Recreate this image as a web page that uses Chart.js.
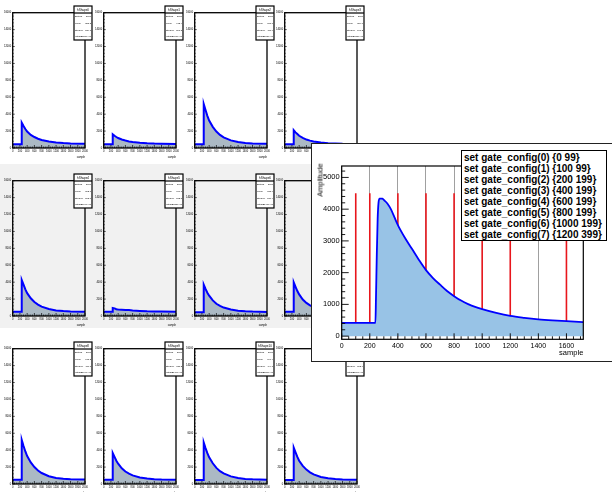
<!DOCTYPE html>
<html>
<head>
<meta charset="utf-8">
<script src="https://cdn.jsdelivr.net/npm/chart.js@4.4.0/dist/chart.umd.min.js"></script>
<style>
  html, body { margin: 0; padding: 0; background: #fff; }
  #page { position: relative; width: 612px; height: 492px; overflow: hidden; font-family: "Liberation Sans", Arial, sans-serif; }
  #row2bg { position: absolute; left: 0; top: 164px; width: 364px; height: 164px; background: #f1f1f1; }
  .cell { position: absolute; }
  #inset { position: absolute; left: 311px; top: 143px; width: 300px; height: 217px; background: #fff; border: 1px solid #222; }
  #inset canvas { position: absolute; left: 0; top: 0; }
  #ytitle { position: absolute; left: 8px; top: 36px; transform: translate(-50%, -50%) rotate(-90deg); font-size: 7.5px; white-space: nowrap; color: #000; }
  #gates { position: absolute; left: 149px; top: 6px; width: 142px; height: 88px; border: 1px solid #000; background: #fff; padding: 1px 0 0 2px; font-weight: bold; font-size: 10px; line-height: 11px; color: #000; white-space: nowrap; }
</style>
</head>
<body>
<div id="page">
  <div id="row2bg"></div>
  <div id="inset">
    <canvas id="insetChart" width="300" height="217"></canvas>
    <div id="ytitle">Amplitude</div>
    <div id="gates"></div>
  </div>
</div>
<script>
// small pads: sample positions and amplitudes
const smallSamples = [0, 240, 250, 300, 350, 400, 500, 600, 700, 800, 1000, 1200, 1400, 1600, 2000];
const hShape0  = [450, 450, 2990, 2600, 2250, 1950, 1550, 1300, 1100, 950, 780, 650, 580, 540, 500];
const hShape1  = [450, 450, 1620, 1450, 1300, 1180, 1000, 880, 780, 700, 620, 560, 520, 500, 480];
const hShape2  = [450, 450, 5200, 4500, 3800, 3250, 2500, 1950, 1550, 1250, 900, 700, 600, 540, 500];
const hShape3  = [450, 450, 2100, 1850, 1650, 1450, 1200, 1000, 870, 770, 650, 570, 530, 500, 480];
const hShape4  = [500, 500, 4250, 3700, 3150, 2700, 2100, 1650, 1350, 1100, 820, 660, 580, 540, 500];
const hShape5  = [500, 500, 950, 900, 800, 760, 740, 720, 700, 650, 600, 560, 540, 520, 500];
const hShape6  = [450, 450, 3700, 3200, 2750, 2400, 1850, 1450, 1200, 1000, 760, 620, 560, 520, 480];
const hShape7  = [500, 500, 3970, 3450, 2950, 2550, 1950, 1550, 1250, 1050, 780, 640, 570, 530, 500];
const hShape8  = [500, 500, 5220, 4500, 3850, 3300, 2550, 2000, 1600, 1300, 920, 720, 620, 560, 520];
const hShape9  = [500, 500, 3660, 3200, 2750, 2400, 1850, 1480, 1220, 1020, 780, 640, 570, 530, 500];
const hShape10 = [480, 480, 4900, 4250, 3650, 3150, 2450, 1900, 1520, 1250, 900, 700, 600, 550, 510];
const hShape11 = [480, 480, 4300, 3750, 3200, 2750, 2150, 1700, 1380, 1130, 830, 670, 590, 540, 500];
const shapes = [hShape0, hShape1, hShape2, hShape3, hShape4, hShape5, hShape6, hShape7, hShape8, hShape9, hShape10, hShape11];

// stats box contents
const statNames    = ["hShape0", "hShape1", "hShape2", "hShape3", "hShape4", "hShape5", "hShape6", "hShape7", "hShape8", "hShape9", "hShape10", "hShape11"];
const statEntries  = ["2000", "2000", "2000", "2000", "2000", "2000", "2000", "2000", "2000", "2000", "2000", "2000"];
const statMean     = ["858.3", "912.4", "781.6", "884.0", "802.7", "960.1", "815.9", "809.3", "778.2", "816.5", "790.4", "803.8"];
const statStdDev   = ["524.1", "561.3", "487.9", "547.2", "503.6", "572.8", "510.4", "506.7", "486.1", "511.2", "494.7", "502.9"];
const statIntegral = ["2.21e+06", "1.61e+06", "3.02e+06", "1.83e+06", "2.64e+06", "1.33e+06", "2.41e+06", "2.52e+06", "3.04e+06", "2.40e+06", "2.87e+06", "2.66e+06"];

// small pad axes
const smallXMax = 2000;
const smallYMax = 16000;
const smallXTicks = [0, 200, 400, 600, 800, 1000, 1200, 1400, 1600, 1800, 2000];
const smallYTicks = [0, 2000, 4000, 6000, 8000, 10000, 12000, 14000, 16000];

// zoomed pad
const insetSamples   = [0, 240, 244, 250, 256, 262, 270, 290, 300, 325, 350, 375, 400, 450, 500, 550, 600, 650, 700, 750, 800, 850, 900, 950, 1000, 1100, 1200, 1300, 1400, 1500, 1600, 1720];
const insetAmplitude = [420, 420, 1200, 2600, 3700, 4200, 4330, 4330, 4290, 4180, 4000, 3750, 3500, 3100, 2750, 2400, 2080, 1830, 1620, 1420, 1260, 1120, 1010, 920, 850, 730, 635, 575, 528, 495, 470, 440];
const gateLines  = [100, 200, 400, 600, 800, 1000, 1200, 1600];
const gateHeight = 4500;
const gateLabels = [
  "set gate_config(0) {0 99}",
  "set gate_config(1) {100 99}",
  "set gate_config(2) {200 199}",
  "set gate_config(3) {400 199}",
  "set gate_config(4) {600 199}",
  "set gate_config(5) {800 199}",
  "set gate_config(6) {1000 199}",
  "set gate_config(7) {1200 399}"
];
const insetXMax = 1720;
const insetYMin = -100;
const insetYMax = 5360;
const insetXTicks = [0, 200, 400, 600, 800, 1000, 1200, 1400, 1600];
const insetYTicks = [0, 1000, 2000, 3000, 4000, 5000];

Chart.defaults.font.family = '"Liberation Sans", Arial, sans-serif';
Chart.defaults.color = '#000';
Chart.defaults.animation = false;

const fixTicks = list => s => { s.ticks = list.map(v => ({ value: v })); };
const plain = v => String(v);

// ROOT style frame with inside ticks
function rootFrame(cfg) {
  return {
    id: 'rootFrame',
    afterDraw(chart) {
      const { ctx, chartArea: a, scales } = chart;
      const x = scales.x, y = scales.y;
      ctx.save();
      ctx.strokeStyle = '#000';
      ctx.lineWidth = cfg.tickWidth;
      ctx.beginPath();
      for (let v = 0; v <= x.max + 1e-6; v += cfg.xMinor) {
        const px = x.getPixelForValue(v);
        const len = Math.round(v) % cfg.xMajor === 0 ? cfg.xTick : cfg.xTick * 0.5;
        ctx.moveTo(px, a.bottom);
        ctx.lineTo(px, a.bottom - len);
      }
      for (let v = Math.ceil(y.min / cfg.yMinor) * cfg.yMinor; v <= y.max + 1e-6; v += cfg.yMinor) {
        const py = y.getPixelForValue(v);
        const len = Math.round(v) % cfg.yMajor === 0 ? cfg.yTick : cfg.yTick * 0.5;
        ctx.moveTo(a.left, py);
        ctx.lineTo(a.left + len, py);
      }
      ctx.stroke();
      ctx.lineWidth = cfg.frameWidth;
      ctx.strokeRect(a.left, a.top, a.right - a.left, a.bottom - a.top);
      ctx.restore();
    }
  };
}

function statBox(i) {
  return {
    id: 'statBox',
    afterDraw(chart) {
      const ctx = chart.ctx;
      const bx = 74, by = 6, bw = 18, bh = 34;
      ctx.save();
      ctx.fillStyle = '#fff';
      ctx.fillRect(bx, by, bw, bh);
      ctx.strokeStyle = '#000';
      ctx.lineWidth = 1.2;
      ctx.strokeRect(bx, by, bw, bh);
      ctx.beginPath();
      ctx.moveTo(bx, by + 7);
      ctx.lineTo(bx + bw, by + 7);
      ctx.stroke();
      ctx.fillStyle = '#000';
      ctx.textBaseline = 'middle';
      ctx.font = '3px "Liberation Sans"';
      ctx.textAlign = 'center';
      ctx.fillText(statNames[i], bx + bw / 2, by + 3.7);
      const rows = [["Entries", statEntries[i]], ["Mean", statMean[i]], ["Std Dev", statStdDev[i]], ["Integral", statIntegral[i]]];
      ctx.font = '2.3px "Liberation Sans"';
      rows.forEach((r, k) => {
        const ry = by + 10.5 + k * 6.7;
        ctx.textAlign = 'left';
        ctx.fillText(r[0], bx + 1, ry);
        ctx.textAlign = 'right';
        ctx.fillText(r[1], bx + bw - 1, ry);
      });
      ctx.restore();
    }
  };
}

// 3 x 4 grid of small pads
const page = document.getElementById('page');
const colPitch = 90.8, rowPitch = 168;
shapes.forEach((vals, i) => {
  const col = i % 4, row = Math.floor(i / 4);
  const cv = document.createElement('canvas');
  cv.width = 95; cv.height = 168;
  cv.className = 'cell';
  cv.style.left = (col * colPitch) + 'px';
  cv.style.top = (row * rowPitch) + 'px';
  page.insertBefore(cv, document.getElementById('inset'));
  new Chart(cv, {
    type: 'line',
    data: {
      datasets: [{
        data: smallSamples.map((s, k) => ({ x: s, y: vals[k] })),
        borderColor: '#0000ff',
        borderWidth: 2,
        backgroundColor: '#abb9c4',
        fill: { value: 0 },
        pointRadius: 0,
        tension: 0
      }]
    },
    options: {
      responsive: false,
      devicePixelRatio: 1,
      layout: { padding: { left: 0, top: 12.7, right: 10, bottom: 0 } },
      plugins: { legend: { display: false }, tooltip: { enabled: false } },
      scales: {
        x: {
          type: 'linear', min: 0, max: smallXMax,
          grid: { display: false, drawTicks: false },
          border: { display: false },
          afterBuildTicks: fixTicks(smallXTicks),
          ticks: { callback: plain, autoSkip: false, maxRotation: 0, padding: 1.5, font: { size: 2.6 } },
          title: { display: true, text: 'sample', align: 'end', font: { size: 2.6 }, padding: { top: 0, bottom: 9.5 } },
          afterFit: s => { s.height = 20; }
        },
        y: {
          min: 0, max: smallYMax,
          grid: { display: false, drawTicks: false },
          border: { display: false },
          afterBuildTicks: fixTicks(smallYTicks),
          ticks: { callback: plain, autoSkip: false, padding: 1.5, font: { size: 2.6 } },
          afterFit: s => { s.width = 12.7; }
        }
      }
    },
    plugins: [rootFrame({ xMajor: 200, xMinor: 50, xTick: 3, yMajor: 2000, yMinor: 400, yTick: 2, tickWidth: 0.7, frameWidth: 1.3 }), statBox(i)]
  });
});

// zoomed pad
document.getElementById('gates').innerHTML = gateLabels.map(t => '<div>' + t + '</div>').join('');

const gateSets = gateLines.map(g => ({
  data: [{ x: g, y: 0 }, { x: g, y: gateHeight }],
  borderColor: '#e8161c',
  borderWidth: 1.6,
  pointRadius: 0,
  fill: false
}));

new Chart(document.getElementById('insetChart'), {
  type: 'line',
  data: {
    datasets: [{
      data: insetSamples.map((s, k) => ({ x: s, y: insetAmplitude[k] })),
      borderColor: '#0000ff',
      borderWidth: 1.8,
      backgroundColor: '#98c3e6',
      fill: { value: 0 },
      pointRadius: 0,
      cubicInterpolationMode: 'monotone'
    }, ...gateSets]
  },
  options: {
    responsive: false,
    devicePixelRatio: 1,
    layout: { padding: { left: 0, top: 22, right: 28.7, bottom: 0 } },
    plugins: { legend: { display: false }, tooltip: { enabled: false } },
    scales: {
      x: {
        type: 'linear', min: 0, max: insetXMax, z: 1,
        grid: { display: true, drawTicks: false, color: '#777', lineWidth: 0.7, borderDash: [1, 2] },
        border: { display: false },
        afterBuildTicks: fixTicks(insetXTicks),
        ticks: { callback: plain, autoSkip: false, maxRotation: 0, padding: 2.5, font: { size: 7 } },
        title: { display: true, text: 'sample', align: 'end', font: { size: 7.5 }, padding: { top: 0, bottom: 3.5 } },
        afterFit: s => { s.height = 21.7; }
      },
      y: {
        min: insetYMin, max: insetYMax,
        grid: { display: false, drawTicks: false },
        border: { display: false },
        afterBuildTicks: fixTicks(insetYTicks),
        ticks: { callback: plain, autoSkip: false, padding: 2, font: { size: 7.5 } },
        afterFit: s => { s.width = 29.7; }
      }
    }
  },
  plugins: [rootFrame({ xMajor: 200, xMinor: 50, xTick: 6, yMajor: 1000, yMinor: 200, yTick: 7, tickWidth: 0.9, frameWidth: 1.2 })]
});
</script>
</body>
</html>
